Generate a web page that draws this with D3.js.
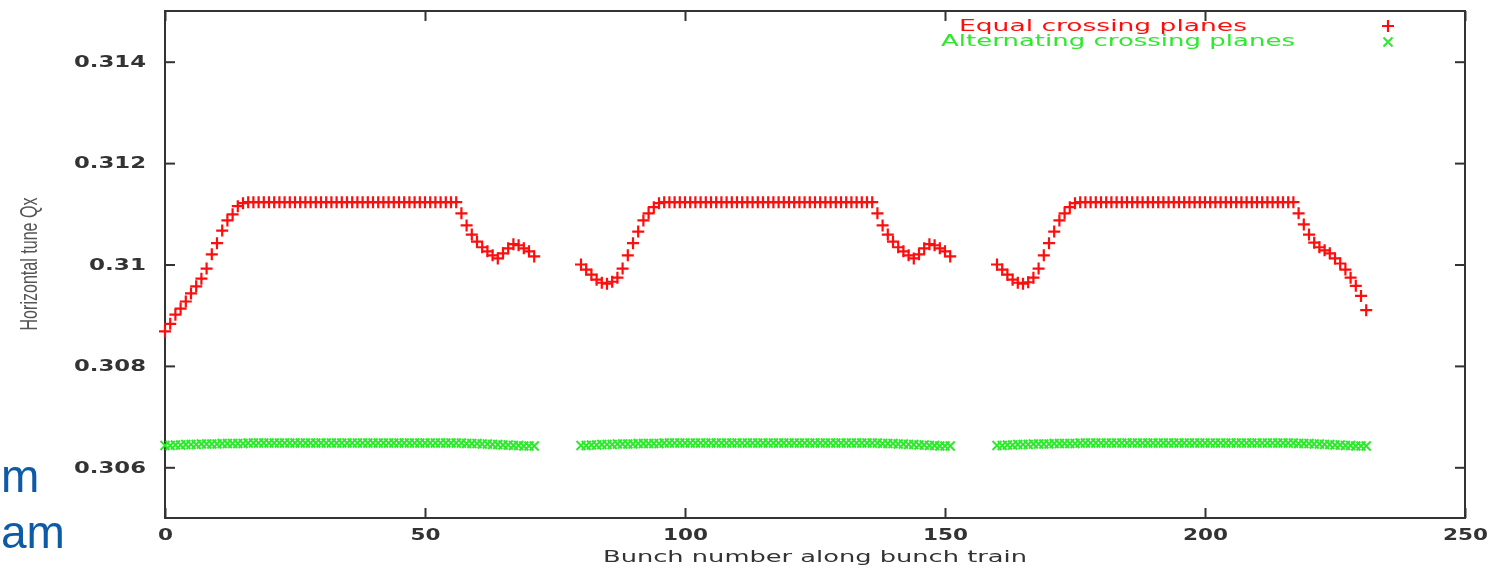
<!DOCTYPE html>
<html>
<head>
<meta charset="utf-8">
<script src="https://cdn.jsdelivr.net/npm/d3@7"></script>
<style>
  body { margin: 0; background: #fff; overflow: hidden; }
  svg { display: block; filter: blur(0.4px); }
</style>
</head>
<body>
<div id="chart"></div>
<script>
// first bunch number of each train
let trainStart = [0, 80, 160]

// horizontal tune, equal crossing planes (one value per bunch)
let red1 = [
  0.30868, 0.30883, 0.30901, 0.30913, 0.30927, 0.30943, 0.30957, 0.30972, 0.30992, 0.31020,
  0.31042, 0.31067, 0.31087, 0.31099, 0.31115, 0.31121,
  0.31123, 0.31123, 0.31123, 0.31123, 0.31123, 0.31123, 0.31123, 0.31123, 0.31123, 0.31123,
  0.31123, 0.31123, 0.31123, 0.31123, 0.31123, 0.31123, 0.31123, 0.31123, 0.31123, 0.31123,
  0.31123, 0.31123, 0.31123, 0.31123, 0.31123, 0.31123, 0.31123, 0.31123, 0.31123, 0.31123,
  0.31123, 0.31123, 0.31123, 0.31123, 0.31123, 0.31123, 0.31123, 0.31123, 0.31123, 0.31123,
  0.31123,
  0.31101, 0.31077, 0.31059, 0.31045, 0.31034, 0.31026, 0.31018, 0.31012, 0.31022, 0.31032,
  0.31040, 0.31038, 0.31032, 0.31026, 0.31016
]
let red2 = [
  0.31000, 0.30990, 0.30980, 0.30970, 0.30964, 0.30962, 0.30966, 0.30974, 0.30992, 0.31018,
  0.31042, 0.31065, 0.31087, 0.31101, 0.31113, 0.31121,
  0.31123, 0.31123, 0.31123, 0.31123, 0.31123, 0.31123, 0.31123, 0.31123, 0.31123, 0.31123,
  0.31123, 0.31123, 0.31123, 0.31123, 0.31123, 0.31123, 0.31123, 0.31123, 0.31123, 0.31123,
  0.31123, 0.31123, 0.31123, 0.31123, 0.31123, 0.31123, 0.31123, 0.31123, 0.31123, 0.31123,
  0.31123, 0.31123, 0.31123, 0.31123, 0.31123, 0.31123, 0.31123, 0.31123, 0.31123, 0.31123,
  0.31123,
  0.31101, 0.31077, 0.31059, 0.31045, 0.31034, 0.31026, 0.31018, 0.31012, 0.31020, 0.31032,
  0.31040, 0.31038, 0.31032, 0.31026, 0.31016
]
let red3 = [
  0.31000, 0.30990, 0.30980, 0.30970, 0.30964, 0.30962, 0.30965, 0.30974, 0.30992, 0.31018,
  0.31042, 0.31065, 0.31087, 0.31101, 0.31113, 0.31121,
  0.31123, 0.31123, 0.31123, 0.31123, 0.31123, 0.31123, 0.31123, 0.31123, 0.31123, 0.31123,
  0.31123, 0.31123, 0.31123, 0.31123, 0.31123, 0.31123, 0.31123, 0.31123, 0.31123, 0.31123,
  0.31123, 0.31123, 0.31123, 0.31123, 0.31123, 0.31123, 0.31123, 0.31123, 0.31123, 0.31123,
  0.31123, 0.31123, 0.31123, 0.31123, 0.31123, 0.31123, 0.31123, 0.31123, 0.31123, 0.31123,
  0.31123, 0.31123,
  0.31101, 0.31079, 0.31059, 0.31043, 0.31034, 0.31028, 0.31022, 0.31012, 0.31002, 0.30990,
  0.30974, 0.30958, 0.30938, 0.30910
]

// horizontal tune, alternating crossing planes
let green1 = [
  0.30643, 0.30643, 0.30644, 0.30644, 0.30645, 0.30645, 0.30645, 0.30646, 0.30646, 0.30646,
  0.30646, 0.30647, 0.30647, 0.30647, 0.30647, 0.30647,
  0.30648, 0.30648, 0.30648, 0.30648, 0.30648, 0.30648, 0.30648, 0.30648, 0.30648, 0.30648,
  0.30648, 0.30648, 0.30648, 0.30648, 0.30648, 0.30648, 0.30648, 0.30648, 0.30648, 0.30648,
  0.30648, 0.30648, 0.30648, 0.30648, 0.30648, 0.30648, 0.30648, 0.30648, 0.30648, 0.30648,
  0.30648, 0.30648, 0.30648, 0.30648, 0.30648, 0.30648, 0.30648, 0.30648, 0.30648, 0.30648,
  0.30648, 0.30648, 0.30647, 0.30647, 0.30647, 0.30646, 0.30646, 0.30645, 0.30645, 0.30644,
  0.30644, 0.30643, 0.30643, 0.30642, 0.30642, 0.30642
]
let green2 = [
  0.30643, 0.30643, 0.30644, 0.30644, 0.30645, 0.30645, 0.30645, 0.30646, 0.30646, 0.30646,
  0.30646, 0.30647, 0.30647, 0.30647, 0.30647, 0.30647,
  0.30648, 0.30648, 0.30648, 0.30648, 0.30648, 0.30648, 0.30648, 0.30648, 0.30648, 0.30648,
  0.30648, 0.30648, 0.30648, 0.30648, 0.30648, 0.30648, 0.30648, 0.30648, 0.30648, 0.30648,
  0.30648, 0.30648, 0.30648, 0.30648, 0.30648, 0.30648, 0.30648, 0.30648, 0.30648, 0.30648,
  0.30648, 0.30648, 0.30648, 0.30648, 0.30648, 0.30648, 0.30648, 0.30648, 0.30648, 0.30648,
  0.30648, 0.30648, 0.30647, 0.30647, 0.30647, 0.30646, 0.30646, 0.30645, 0.30645, 0.30644,
  0.30644, 0.30643, 0.30643, 0.30642, 0.30642, 0.30642
]
let green3 = [
  0.30643, 0.30643, 0.30644, 0.30644, 0.30645, 0.30645, 0.30645, 0.30646, 0.30646, 0.30646,
  0.30646, 0.30647, 0.30647, 0.30647, 0.30647, 0.30647,
  0.30648, 0.30648, 0.30648, 0.30648, 0.30648, 0.30648, 0.30648, 0.30648, 0.30648, 0.30648,
  0.30648, 0.30648, 0.30648, 0.30648, 0.30648, 0.30648, 0.30648, 0.30648, 0.30648, 0.30648,
  0.30648, 0.30648, 0.30648, 0.30648, 0.30648, 0.30648, 0.30648, 0.30648, 0.30648, 0.30648,
  0.30648, 0.30648, 0.30648, 0.30648, 0.30648, 0.30648, 0.30648, 0.30648, 0.30648, 0.30648,
  0.30648, 0.30648, 0.30647, 0.30647, 0.30647, 0.30646, 0.30646, 0.30645, 0.30645, 0.30644,
  0.30644, 0.30643, 0.30643, 0.30642, 0.30642, 0.30642
]

let xTicks = [0, 50, 100, 150, 200, 250]
let yTicks = [0.306, 0.308, 0.31, 0.312, 0.314]
let yTickLabels = ["0.306", "0.308", "0.31", "0.312", "0.314"]
let legendNames = ["Equal crossing planes", "Alternating crossing planes"]
let xTitle = "Bunch number along bunch train"
let yTitle = "Horizontal tune Qx"

window.onload = () => {
  var width = 1501
  var height = 568
  var left = 165, right = 1465, top = 11, bottom = 518

  var svg = d3.select("#chart")
    .append("svg")
    .attr("width", width)
    .attr("height", height)

  var x = d3.scaleLinear().domain([0, 250]).range([left, right])
  var y = d3.scaleLinear().domain([0.305, 0.315]).range([bottom, top])

  var red = "#ff0d0d"
  var green = "#2ee82e"
  var ink = "#333"
  var font = "'DejaVu Sans', Verdana, sans-serif"

  // gnuplot fonts are very wide, stretch the numbers
  let numLen = s => s.replace(/[^0-9]/g, "").length * 15 + s.replace(/[0-9]/g, "").length * 12

  // slide text at the left edge
  svg.append("text").attr("x", 1).attr("y", 492)
    .style("font-family", "'Liberation Sans', Arial, sans-serif").style("font-size", "46px")
    .attr("fill", "#0d5aa7").text("m")
  svg.append("text").attr("x", 1).attr("y", 548)
    .style("font-family", "'Liberation Sans', Arial, sans-serif").style("font-size", "46px")
    .attr("fill", "#0d5aa7").text("am")

  // axes, ticks pointing inwards on all four sides
  var gl = svg.append("g").attr("transform", "translate(" + left + ",0)")
    .call(d3.axisLeft(y).tickValues(yTicks).tickSize(-10).tickPadding(19).tickFormat((d, i) => yTickLabels[i]))
  var gr = svg.append("g").attr("transform", "translate(" + right + ",0)")
    .call(d3.axisRight(y).tickValues(yTicks).tickSize(-10).tickFormat(""))
  var gb = svg.append("g").attr("transform", "translate(0," + bottom + ")")
    .call(d3.axisBottom(x).tickValues(xTicks).tickSize(-10).tickPadding(11).tickFormat(d3.format("d")))
  var gt = svg.append("g").attr("transform", "translate(0," + top + ")")
    .call(d3.axisTop(x).tickValues(xTicks).tickSize(-10).tickFormat(""))

  ;[gl, gr, gb, gt].forEach(g => {
    g.select(".domain").remove()
    g.selectAll(".tick line").attr("stroke", ink).attr("stroke-width", 2)
    g.selectAll("text")
      .attr("fill", ink)
      .style("font-family", font)
      .style("font-size", "15px")
      .style("font-weight", "bold")
      .attr("textLength", function () { return numLen(this.textContent) })
      .attr("lengthAdjust", "spacingAndGlyphs")
  })

  svg.append("rect")
    .attr("x", left).attr("y", top)
    .attr("width", right - left).attr("height", bottom - top)
    .attr("fill", "none").attr("stroke", ink).attr("stroke-width", 2)

  // axis titles
  svg.append("text")
    .attr("x", 815).attr("y", 562)
    .attr("text-anchor", "middle")
    .attr("fill", ink)
    .style("font-family", font).style("font-size", "15px")
    .attr("textLength", 424).attr("lengthAdjust", "spacingAndGlyphs")
    .text(xTitle)

  svg.append("text")
    .attr("transform", "translate(37,264) rotate(-90)")
    .attr("text-anchor", "middle")
    .attr("fill", "#555")
    .style("font-family", "'Liberation Sans Narrow', 'Liberation Sans', sans-serif").style("font-size", "24px")
    .attr("textLength", 133).attr("lengthAdjust", "spacingAndGlyphs")
    .text(yTitle)

  var plus = "M-6,0H6M0,-6V6"
  var cross = "M-4.5,-4.5L4.5,4.5M-4.5,4.5L4.5,-4.5"

  let toPoints = (arr, t) => arr.map((v, i) => ({ b: trainStart[t] + i, v: v }))
  var greenPts = [].concat(toPoints(green1, 0), toPoints(green2, 1), toPoints(green3, 2))
  var redPts = [].concat(toPoints(red1, 0), toPoints(red2, 1), toPoints(red3, 2))

  svg.append("g").selectAll("path")
    .data(greenPts)
    .enter()
    .append("path")
    .attr("d", cross)
    .attr("transform", d => "translate(" + x(d.b) + "," + y(d.v) + ")")
    .attr("stroke", green).attr("stroke-width", 2).attr("fill", "none")

  svg.append("g").selectAll("path")
    .data(redPts)
    .enter()
    .append("path")
    .attr("d", plus)
    .attr("transform", d => "translate(" + x(d.b) + "," + y(d.v) + ")")
    .attr("stroke", red).attr("stroke-width", 2.2).attr("fill", "none")

  // legend
  var legend = svg.append("g")
  legend.append("text").attr("x", 959).attr("y", 31)
    .attr("fill", red).style("font-family", font).style("font-size", "15px")
    .attr("textLength", 288).attr("lengthAdjust", "spacingAndGlyphs")
    .text(legendNames[0])
  legend.append("text").attr("x", 941).attr("y", 46)
    .attr("fill", green).style("font-family", font).style("font-size", "15px")
    .attr("textLength", 354).attr("lengthAdjust", "spacingAndGlyphs")
    .text(legendNames[1])
  legend.append("path").attr("d", plus).attr("transform", "translate(1388,26)")
    .attr("stroke", red).attr("stroke-width", 2.2).attr("fill", "none")
  legend.append("path").attr("d", cross).attr("transform", "translate(1388,42)")
    .attr("stroke", green).attr("stroke-width", 2).attr("fill", "none")
}
</script>
</body>
</html>
